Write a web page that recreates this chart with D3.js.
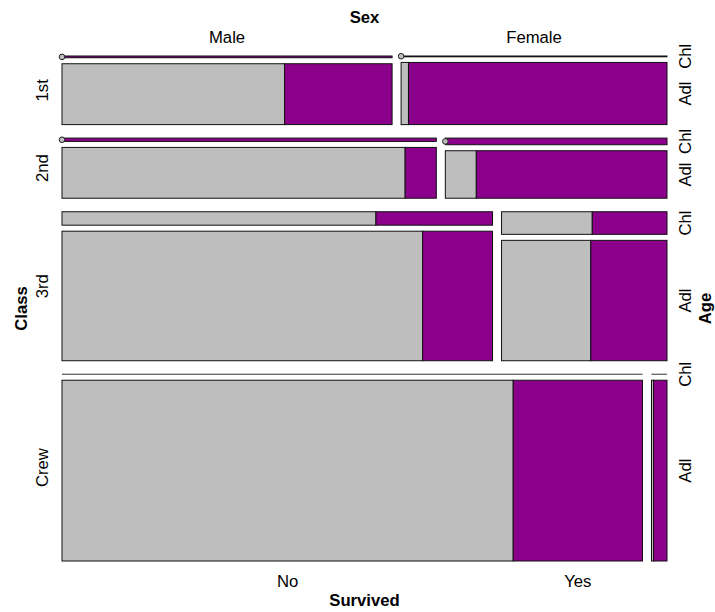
<!DOCTYPE html>
<html>
<head>
<meta charset="utf-8">
<script src="https://cdn.jsdelivr.net/npm/d3@7"></script>
<style>
  html, body { margin: 0; padding: 0; background: #fff; }
  svg { display: block; }
  text { font-family: "Liberation Sans", Arial, Helvetica, sans-serif; font-size: 16.7px; fill: #000; }
  .bold { font-weight: bold; }
</style>
</head>
<body>
<svg id="chart" width="715" height="612"></svg>
<script>
// ---- data (Titanic) ----
const classes = ["1st", "2nd", "3rd", "Crew"];
const sexes = ["Male", "Female"];
const ages = ["Child", "Adult"];
const ageLabels = ["Chl", "Adl"];
const survived = ["No", "Yes"];

const noMaleChild    = [0, 0, 35, 0];
const noFemaleChild  = [0, 0, 17, 0];
const noMaleAdult    = [118, 154, 387, 670];
const noFemaleAdult  = [4, 13, 89, 3];
const yesMaleChild   = [5, 11, 13, 0];
const yesFemaleChild = [1, 13, 14, 0];
const yesMaleAdult   = [57, 14, 75, 192];
const yesFemaleAdult = [140, 80, 76, 20];

const fillColors = ["#BEBEBE", "#8B008B"];

function count(ci, si, ai, vi) {
  const tbl = [
    [[noMaleChild, yesMaleChild], [noMaleAdult, yesMaleAdult]],
    [[noFemaleChild, yesFemaleChild], [noFemaleAdult, yesFemaleAdult]]
  ];
  return tbl[si][ai][vi][ci];
}

// ---- layout ----
const svg = d3.select("#chart");
const X0 = 62, X1 = 667, Y0 = 56, Y1 = 561;
const gapClass = 13.5, gapSex = 9, gapAge = 6, gapSurv = 0;

function split(a, b, vals, gap) {
  const total = d3.sum(vals);
  const n = vals.length;
  const avail = b - a - gap * (n - 1);
  const s = d3.scaleLinear().domain([0, total || n]).range([0, avail]);
  let pos = a;
  return vals.map(v => {
    const start = pos;
    const len = total ? s(v) : s(1);
    pos += len + gap;
    return [start, start + len];
  });
}

const classTotals = classes.map((c, ci) =>
  d3.sum(sexes, (s, si) => d3.sum(ages, (a, ai) => d3.sum(survived, (v, vi) => count(ci, si, ai, vi)))));
const classRows = split(Y0, Y1, classTotals, gapClass);

const gRects = svg.append("g");
const gZero = svg.append("g");
const layout = [];

classes.forEach((c, ci) => {
  const [cy0, cy1] = classRows[ci];
  const sexTotals = sexes.map((s, si) => d3.sum(ages, (a, ai) => d3.sum(survived, (v, vi) => count(ci, si, ai, vi))));
  const sexCols = split(X0, X1, sexTotals, gapSex);
  const classInfo = { cy0, cy1, sexCols, ageRows: [], survCols: [] };
  sexes.forEach((s, si) => {
    const [sx0, sx1] = sexCols[si];
    const ageTotals = ages.map((a, ai) => d3.sum(survived, (v, vi) => count(ci, si, ai, vi)));
    const ageRows = split(cy0, cy1, ageTotals, gapAge);
    classInfo.ageRows[si] = ageRows;
    classInfo.survCols[si] = [];
    ages.forEach((a, ai) => {
      const [ay0, ay1] = ageRows[ai];
      const vals = survived.map((v, vi) => count(ci, si, ai, vi));
      const cols = split(sx0, sx1, vals, gapSurv);
      classInfo.survCols[si][ai] = cols;
      const rowTotal = d3.sum(vals);
      if (rowTotal === 0) {
        // empty row: collapsed to a line
        gRects.append("line")
          .attr("x1", sx0).attr("x2", sx1)
          .attr("y1", ay0).attr("y2", ay0)
          .attr("stroke", "#333").attr("stroke-width", 1);
        return;
      }
      survived.forEach((v, vi) => {
        const [vx0, vx1] = cols[vi];
        if (vals[vi] === 0) {
          gZero.append("circle")
            .attr("cx", vx0).attr("cy", (ay0 + ay1) / 2).attr("r", 2.8)
            .attr("fill", fillColors[vi]).attr("stroke", "#222").attr("stroke-width", 1);
          return;
        }
        gRects.append("rect")
          .attr("x", vx0).attr("y", ay0)
          .attr("width", Math.max(0, vx1 - vx0))
          .attr("height", Math.max(0.8, ay1 - ay0))
          .attr("fill", fillColors[vi])
          .attr("stroke", "#111")
          .attr("stroke-width", 1);
      });
    });
  });
  layout.push(classInfo);
});

// ---- labels ----
const plotMidX = (X0 + X1) / 2, plotMidY = (Y0 + Y1) / 2;

// top: Sex
svg.append("text").attr("class", "bold").attr("x", plotMidX).attr("y", 23)
  .attr("text-anchor", "middle").text("Sex");
sexes.forEach((s, si) => {
  const [a, b] = layout[0].sexCols[si];
  svg.append("text").attr("x", (a + b) / 2).attr("y", 43)
    .attr("text-anchor", "middle").text(s);
});

// left: Class
svg.append("text").attr("class", "bold")
  .attr("transform", `translate(27,${plotMidY}) rotate(-90)`)
  .attr("text-anchor", "middle").text("Class");
classes.forEach((c, ci) => {
  const m = (layout[ci].cy0 + layout[ci].cy1) / 2;
  svg.append("text")
    .attr("transform", `translate(48,${m}) rotate(-90)`)
    .attr("text-anchor", "middle").text(c);
});

// right: Age (from last column)
svg.append("text").attr("class", "bold")
  .attr("transform", `translate(711,${plotMidY}) rotate(-90)`)
  .attr("text-anchor", "middle").text("Age");
classes.forEach((c, ci) => {
  const rows = layout[ci].ageRows[sexes.length - 1];
  ages.forEach((a, ai) => {
    const m = (rows[ai][0] + rows[ai][1]) / 2;
    svg.append("text")
      .attr("transform", `translate(691,${m}) rotate(-90)`)
      .attr("text-anchor", "middle").text(ageLabels[ai]);
  });
});

// bottom: Survived (from last row, first column, adult row)
const lastCols = layout[classes.length - 1].survCols[0][1];
survived.forEach((v, vi) => {
  const [a, b] = lastCols[vi];
  svg.append("text").attr("x", (a + b) / 2).attr("y", 586.5)
    .attr("text-anchor", "middle").text(v);
});
svg.append("text").attr("class", "bold").attr("x", plotMidX).attr("y", 605.5)
  .attr("text-anchor", "middle").text("Survived");
</script>
</body>
</html>
